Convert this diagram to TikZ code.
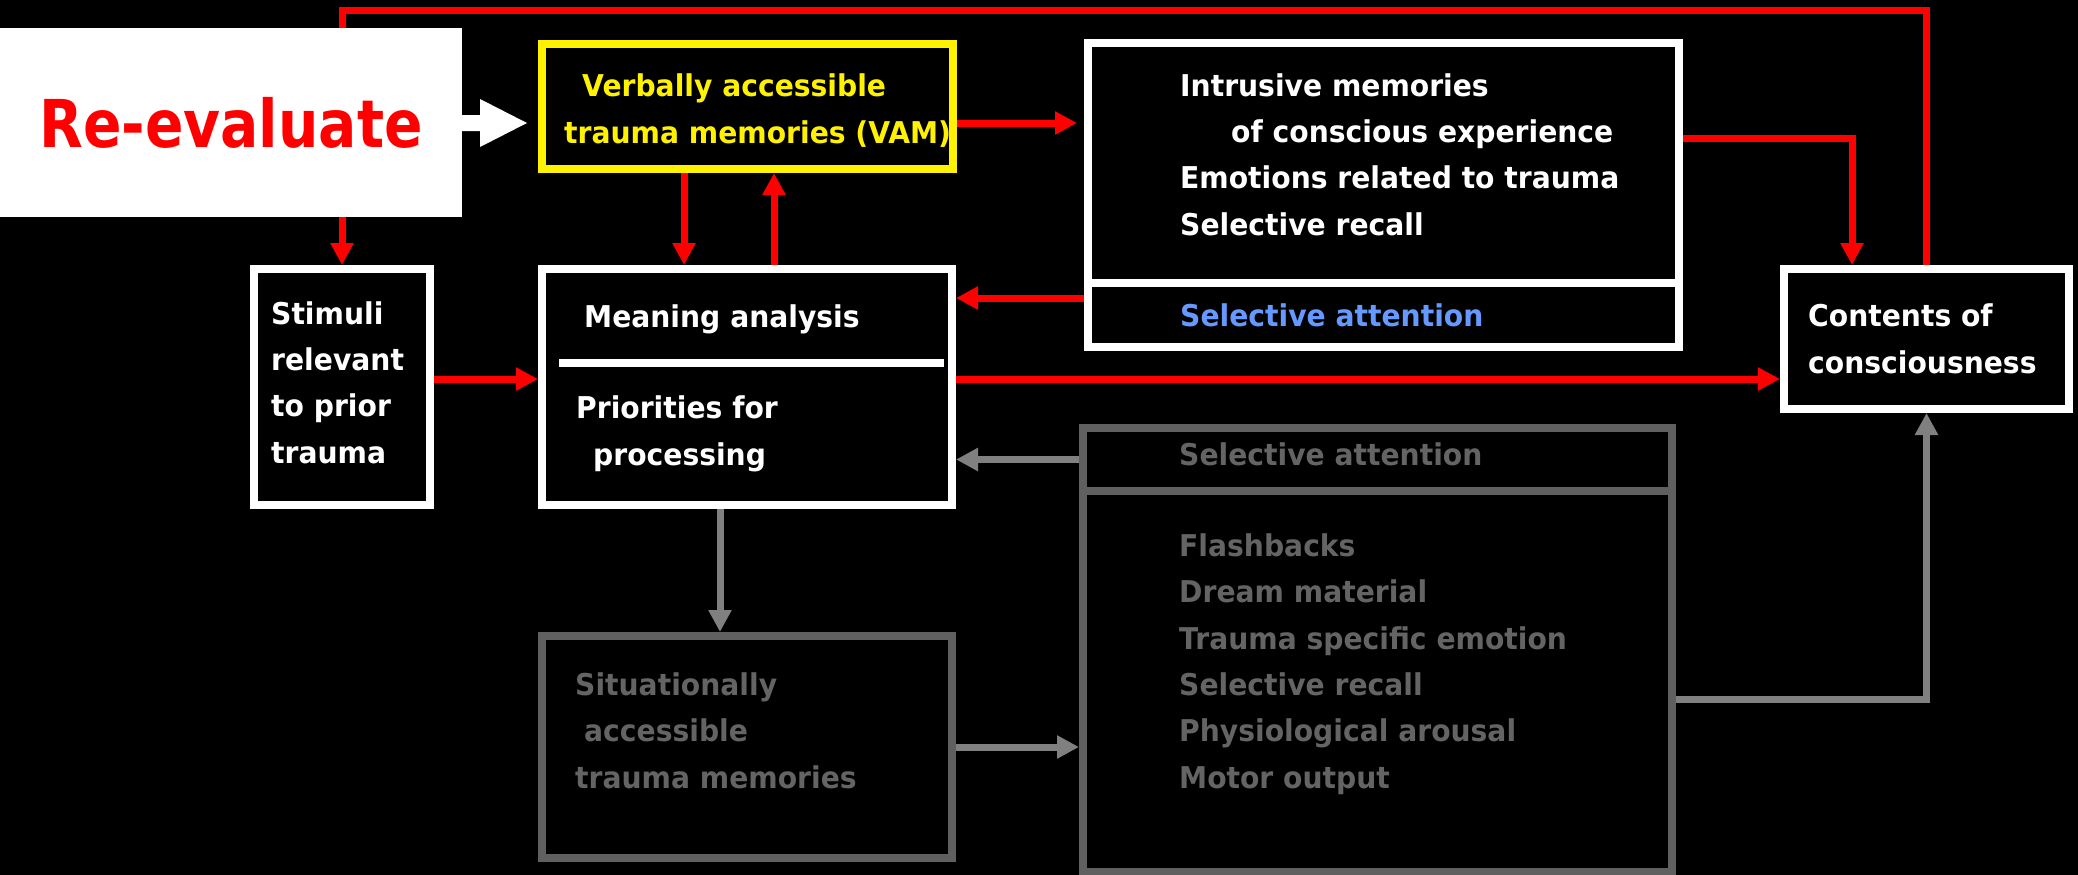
\documentclass[tikz,border=0pt]{standalone}
\usepackage{fontspec}
\usetikzlibrary{arrows.meta,calc}
\newfontfamily\dvbody{DejaVu Sans}[FakeStretch=0.94]
\newfontfamily\dvhead{DejaVu Sans}[FakeStretch=0.86]
\newcommand\bodytxt{\dvbody\bfseries\fontsize{30}{46.3}\selectfont}
\newcommand\headtxt{\dvhead\bfseries\fontsize{66}{70}\selectfont}
\definecolor{boxgray}{RGB}{96,96,96}
\definecolor{textgray}{RGB}{100,100,100}
\definecolor{arrowgray}{RGB}{128,128,128}
\definecolor{attblue}{RGB}{102,153,255}
\begin{document}
\begin{tikzpicture}[x=1pt,y=-1pt,
  wbox/.style={draw=white,line width=8pt,fill=black,inner sep=0pt},
  ybox/.style={draw=yellow,line width=8pt,fill=black,inner sep=0pt},
  gbox/.style={draw=boxgray,line width=8pt,fill=black,inner sep=0pt},
  txt/.style={font=\bodytxt,text=white,align=left,anchor=base west,inner sep=0pt},
  redline/.style={draw=red,line width=7pt},
  redarrow/.style={redline,-{Triangle[length=22pt,width=22pt]}},
  grayarrow/.style={draw=arrowgray,line width=7pt,-{Triangle[length=22pt,width=22pt]}},
  grayline/.style={draw=arrowgray,line width=7pt}]
\useasboundingbox (0,0) rectangle (2078,875);
\fill[black] (0,0) rectangle (2078,875);

% boxes
\node[fill=white,inner sep=0pt,outer sep=0pt,minimum width=462pt,minimum height=189pt,
      font=\headtxt,text=red] (reeval) at (231,122.5) {Re-evaluate};
\node[ybox,minimum width=411pt,minimum height=125pt] (vam) at (747.5,106.5) {};
\node[wbox,minimum width=591pt,minimum height=240pt] (intr) at (1383.5,163) {};
\node[wbox,minimum width=591pt,minimum height=64pt] (intrsel) at (1383.5,315) {};
\node[wbox,minimum width=176pt,minimum height=236pt] (stim) at (342,387) {};
\node[wbox,minimum width=410pt,minimum height=236pt] (mean) at (747,387) {};
\node[wbox,minimum width=285pt,minimum height=140pt] (cont) at (1926.5,339) {};
\node[gbox,minimum width=589pt,minimum height=63pt] (grsel) at (1377.5,459.5) {};
\node[gbox,minimum width=589pt,minimum height=381pt] (grlist) at (1377.5,681.5) {};
\node[gbox,minimum width=410pt,minimum height=222pt] (sit) at (747,747) {};

% divider inside the meaning-analysis box
\coordinate (divl) at (559,363);
\coordinate (divr) at (944,363);
\draw[white,line width=8pt] (divl) -- (divr);

% texts (multi-line nodes are anchored at the baseline of their last line)
\node[txt,text=yellow] (vamtxt) at (564,143) {\hspace*{18pt}Verbally accessible\\trauma memories (VAM)};
\node[txt] (intrtxt) at (1180,235) {Intrusive memories\\\hspace*{51pt}of conscious experience\\Emotions related to trauma\\Selective recall};
\node[txt,text=attblue] (intrseltxt) at (1180,326) {Selective attention};
\node[txt] (stimtxt) at (271,463) {Stimuli\\relevant\\to prior\\trauma};
\node[txt] (meantop) at (584,327) {Meaning analysis};
\node[txt] (meanbot) at (576,465) {Priorities for\\\hspace*{17pt}processing};
\node[txt] (conttxt) at (1808,373) {Contents of\\consciousness};
\node[txt,text=textgray] (grseltxt) at (1179,465) {Selective attention};
\node[txt,text=textgray] (grlisttxt) at (1179,788) {Flashbacks\\Dream material\\Trauma specific emotion\\Selective recall\\Physiological arousal\\Motor output};
\node[txt,text=textgray] (sittxt) at (575,788) {Situationally\\\hspace*{9pt}accessible\\trauma memories};

% feedback line from consciousness back to re-evaluation
\coordinate (topline) at (0,11);
\draw[redline] (stim.north |- reeval.north) -- (stim.north |- topline) -| (cont.north);

% white block arrow into the VAM box
\fill[white] (reeval.east |- 0,115) -- (480,115) -- (480,99) -- (527,123) -- (480,147) -- (480,131) -- (reeval.east |- 0,131) -- cycle;

% red connectors
\draw[redarrow] (stim.north |- reeval.south) -- (stim.north);
\draw[redarrow] ($(vam.east)+(0,16.5)$) -- ($(intr.west |- vam.east)+(-7,16.5)$);
\draw[redarrow] ($(vam.south)+(-63.5,0)$) -- ($(mean.north)+(-63,0)$);
\draw[redarrow] ($(mean.north)+(27,0)$) -- ($(vam.south)+(26.5,0)$);
\draw[redarrow] ($(intrsel.west)+(0,-17)$) -- ($(mean.east |- intrsel.west)+(0,-17)$);
\draw[redarrow] ($(intr.east)+(0,-25)$) -| ($(cont.north)+(-74.5,0)$);
\draw[redarrow] ($(stim.east)+(0,-8)$) -- ($(mean.west)+(0,-8)$);
\draw[redarrow] ($(mean.east)+(0,-8)$) -- (cont.west |- {$(mean.east)+(0,-8)$});

% gray connectors
\draw[grayarrow] (grsel.west) -- (mean.east |- grsel.west);
\draw[grayarrow] ($(mean.south)+(-27,0)$) -- ($(sit.north)+(-27,0)$);
\draw[grayarrow] (sit.east) -- (grlist.west |- sit.east);
\draw[grayarrow] ($(grlist.east)+(0,17.5)$) -| (cont.south);
\end{tikzpicture}
\end{document}
